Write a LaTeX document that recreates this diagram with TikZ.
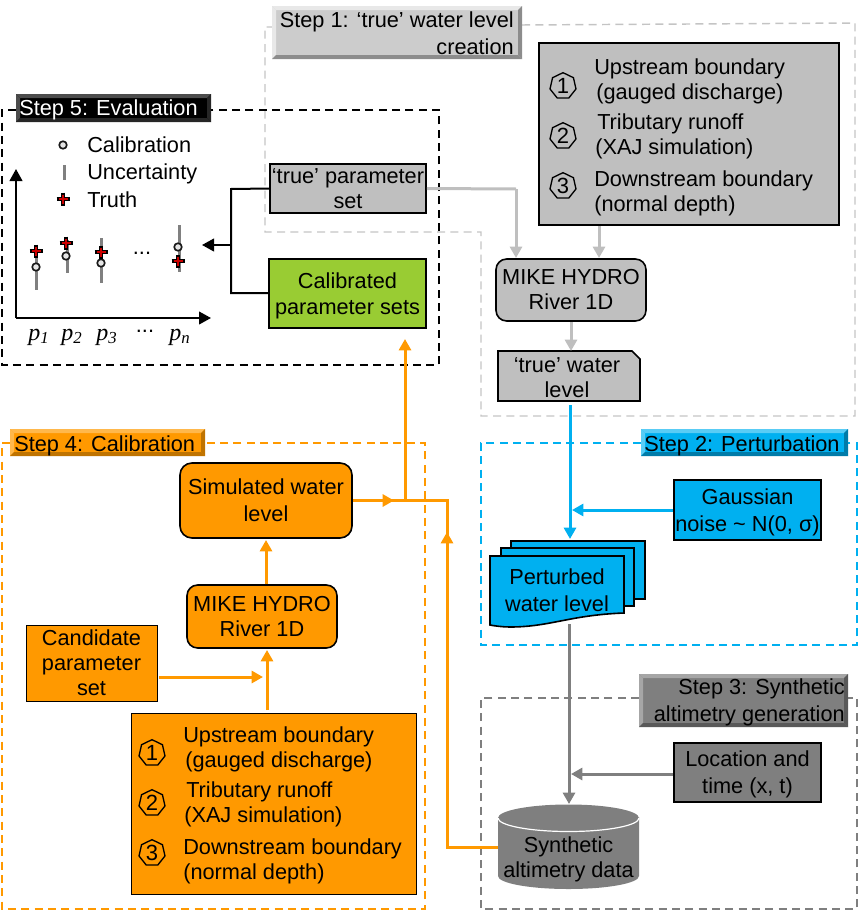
\documentclass[tikz,border=0pt]{standalone}
\usepackage{fontspec}
\setmainfont{Liberation Sans}
\newfontfamily\serifit{Liberation Serif}
\usetikzlibrary{arrows.meta,shapes.geometric,calc}
\definecolor{cgrey}{HTML}{BFBFBF}
\definecolor{cdash}{HTML}{C4C4C4}
\definecolor{cblue}{HTML}{00B0F0}
\definecolor{cdark}{HTML}{7F7F7F}
\definecolor{corange}{HTML}{FF9900}
\definecolor{cgreen}{HTML}{99CC33}
\tikzset{
  txt/.style={font=\fontsize{16.3pt}{18.75pt}\selectfont,align=center,inner sep=0pt,text=black},
  bigls/.style={font=\fontsize{16.3pt}{20.25pt}\selectfont},
  boxed/.style={draw=black,line width=1.2pt,rectangle,inner sep=0pt},
  thinboxed/.style={draw=black,line width=0.75pt,rectangle,inner sep=0pt},
  roundbox/.style={boxed,rounded corners=8pt},
  hexa/.style={regular polygon,regular polygon sides=7,draw=black,line width=1pt,minimum size=20pt,inner sep=0pt,font=\fontsize{16.5pt}{16.5pt}\selectfont,text=black},
  pairtxt/.style={txt,align=left,anchor=west},
  framedash/.style={line width=1.1pt,dash pattern=on 6pt off 4pt},
  greyline/.style={line width=2.25pt,draw=cgrey},
  greyarrow/.style={greyline,-{Triangle[length=8.5pt,width=9pt]}},
  blueline/.style={line width=2.25pt,draw=cblue},
  bluearrow/.style={blueline,-{Triangle[length=8.5pt,width=9pt]}},
  darkline/.style={line width=2.25pt,draw=cdark},
  darkarrow/.style={darkline,-{Triangle[length=8.5pt,width=9pt]}},
  orline/.style={line width=2.25pt,draw=corange},
  orarrow/.style={orline,-{Triangle[length=8.5pt,width=9pt]}},
  blackline/.style={line width=1.5pt,draw=black},
  blackarrow/.style={blackline,-{Triangle[length=9pt,width=9.5pt]}},
  bar/.style={line width=2.25pt,draw=black!50},
  ptxt/.style={txt,font=\fontsize{18pt}{20pt}\selectfont\serifit\itshape},
}
% name, x1,y1,x2,y2, box style, text style, text
\newcommand{\pxbox}[8]{%
  \pgfmathsetmacro{\pxw}{(#4-#2)*0.75}%
  \pgfmathsetmacro{\pxh}{(#5-#3)*0.75}%
  \node[#6,minimum width=\pxw pt,minimum height=\pxh pt] (#1) at ({(#2+#4)/2},{(#3+#5)/2}) {};%
  \node[txt,#7] (#1-t) at (#1.center) {#8};%
}
% bevel: x1,y1,x2,y2, main, top/left, bottom/right
\newcommand{\bevel}[7]{%
  \fill[#5] (#1,#2) rectangle (#3,#4);%
  \fill[#6] (#1,#2) -- (#3,#2) -- ({#3-4},{#2+4}) -- ({#1+4},{#2+4}) -- cycle;%
  \fill[#6] (#1,#2) -- (#1,#4) -- ({#1+4},{#4-4}) -- ({#1+4},{#2+4}) -- cycle;%
  \fill[#7] (#3,#4) -- (#1,#4) -- ({#1+4},{#4-4}) -- ({#3-4},{#4-4}) -- cycle;%
  \fill[#7] (#3,#4) -- (#3,#2) -- ({#3-4},{#2+4}) -- ({#3-4},{#4-4}) -- cycle;%
}
\newcommand{\redplus}[2]{%
  \draw[line width=3.6pt,black] ({#1-6.5},#2) -- ({#1+6.5},#2) ({#1},{#2-6.5}) -- ({#1},{#2+6.5});%
  \draw[line width=1.1pt,red!80!black] ({#1-4.5},#2) -- ({#1+4.5},#2) ({#1},{#2-4.5}) -- ({#1},{#2+4.5});%
}
\newcommand{\calib}[2]{\draw[line width=1.25pt,black!90,fill=black!10] (#1,#2) circle (3.8);}
\begin{document}
\begin{tikzpicture}[x=0.75pt,y=-0.75pt]
\useasboundingbox (0,0) rectangle (864,910);
% frames
\draw[framedash,draw=cdash] (522,25) -- (855,23) -- (855,416) -- (481,416) -- (481,232) -- (265,232) -- (265,27) -- (272,27);
\draw[framedash,draw=black] (16,110) -- (2,110) -- (2,365) -- (439,365) -- (439,110) -- (211,110);
\draw[framedash,draw=cblue] (641,443) -- (481,443) -- (481,645) -- (857,645) -- (857,443) -- (848,443);
\draw[framedash,draw=cdark] (639,698) -- (481,698) -- (481,909) -- (857,909) -- (857,698) -- (848,698);
\draw[framedash,draw=corange] (10,443) -- (2,443) -- (2,909) -- (425,909) -- (425,443) -- (205,443);

% step labels
\bevel{272}{6}{522}{59}{black!20}{black!9}{black!45}
\node[txt,bigls,align=right,anchor=east] (s1) at (514,33.5) {Step 1: ‘true’ water level\\creation};
\bevel{16}{94}{211}{122}{black}{black!70}{black!85}
\node[txt,anchor=west,text=white] (s5) at (19,110) {Step 5: Evaluation};
\bevel{641}{429}{848}{456}{cblue}{cblue!65}{cblue!70!black}
\node[txt,anchor=west] (s2) at (644,445.5) {Step 2: Perturbation};
\bevel{639}{674}{848}{727}{cdark}{black!35}{black!65}
\node[txt,bigls,align=right,anchor=east] (s3) at (845,702) {Step 3: Synthetic\\altimetry generation};
\bevel{10}{429}{205}{456}{corange}{corange!70}{corange!75!black}
\node[txt,anchor=west] (s4) at (14,445.5) {Step 4: Calibration};

% step 1 nodes
\pxbox{inA}{539}{43}{839}{225}{boxed,fill=cgrey}{}{}
\node[hexa] (ha1) at (563,86) {1};
\node[hexa] (ha2) at (563,136) {2};
\node[hexa] (ha3) at (563,186) {3};
\node[pairtxt] (ta1) at (594,81.5) {Upstream boundary\\\hspace*{1.5pt}(gauged discharge)};
\node[pairtxt] (ta2) at (595,136.5) {\hspace*{1.5pt}Tributary runoff\\(XAJ simulation)};
\node[pairtxt] (ta3) at (594,193.5) {Downstream boundary\\(normal depth)};
\pxbox{mikeA}{496}{259}{646}{321}{roundbox,fill=cgrey}{}{MIKE HYDRO\\River 1D}
\draw[line width=1.2pt,fill=cgrey] (498,351) -- (632,351) -- (640,359) -- (640,401) -- (498,401) -- cycle;
\node[txt,minimum width=106.5pt,minimum height=37.5pt] (wl) at (569,378) {\hspace*{-3pt}‘true’ water\\\hspace*{-3pt}level};
\pxbox{trueset}{270}{164}{426}{213}{boxed,fill=cgrey}{}{‘true’ parameter\\set}
\pxbox{calset}{269}{259}{426}{328}{boxed,fill=cgreen}{yshift=-1.5pt,font=\fontsize{16.3pt}{19.5pt}\selectfont}{Calibrated\\parameter sets}

% step 2 nodes
\pxbox{noise}{674}{480}{821}{540}{boxed,fill=cblue}{bigls,yshift=-1.5pt}{Gaussian\\noise \textasciitilde{} N(0, σ)}
\draw[line width=1.2pt,fill=cblue] (511,541) rectangle (645,599);
\draw[line width=1.2pt,fill=cblue] (501,548) rectangle (634,606);
\draw[line width=1.2pt,fill=cblue] (490,556) -- (624,556) -- (624,613) .. controls (570,615) and (550,627) .. (510,627) .. controls (503,627) and (495,626) .. (490,625) -- cycle;
\node[txt,bigls,minimum width=100pt,minimum height=43pt] (pert) at (557,590.5) {Perturbed\\water level};

% step 3 nodes
\pxbox{loc}{674}{743}{821}{802}{boxed,fill=cdark}{bigls,yshift=-1.5pt}{Location and\\time (x, t)}
\fill[cdark] (498,817) -- (498,876) arc[start angle=180,end angle=360,x radius=70.5,y radius=-13] -- (639,817) -- cycle;
\fill[cdark] (568.5,818) ellipse [x radius=70.5,y radius=13.5];
\draw[white,line width=0.9pt] (498,818) arc[start angle=180,end angle=360,x radius=70.5,y radius=-13.5];
\node[txt,minimum width=105pt,minimum height=40pt] (synth) at (568.5,859) {Synthetic\\altimetry data};

% step 4 nodes
\pxbox{sim}{180}{463}{352}{538}{roundbox,fill=corange,rounded corners=9pt}{bigls}{Simulated water\\level}
\pxbox{mikeB}{187}{585}{337}{648}{roundbox,fill=corange}{}{MIKE HYDRO\\River 1D}
\pxbox{cand}{26}{625}{157}{701}{thinboxed,fill=corange}{}{Candidate\\parameter\\set}
\pxbox{inB}{131}{713}{416}{894}{thinboxed,fill=corange}{}{}
\node[hexa] (hb1) at (152,753) {1};
\node[hexa] (hb2) at (152,803) {2};
\node[hexa] (hb3) at (152,853) {3};
\node[pairtxt] (tb1) at (183,749.5) {Upstream boundary\\\hspace*{1.5pt}(gauged discharge)};
\node[pairtxt] (tb2) at (184,804.5) {\hspace*{1.5pt}Tributary runoff\\(XAJ simulation)};
\node[pairtxt] (tb3) at (183,861.5) {Downstream boundary\\(normal depth)};

% free-end coordinates
\coordinate (gA) at (516,189);
\coordinate (gB) at (516,258);
\coordinate (gC) at (599,258);
\coordinate (gD) at (571,322);
\coordinate (gE) at (571,351);
\coordinate (bA) at (570,405);
\coordinate (bB) at (570,539);
\coordinate (bC) at (572,510);
\coordinate (dA) at (569,624);
\coordinate (dB) at (569,804);
\coordinate (dC) at (571,774);
\coordinate (oS) at (498,847);
\coordinate (oJ) at (447,500.5);
\coordinate (oK) at (447,532);
\coordinate (oT) at (394,500.5);
\coordinate (oV) at (405,500.5);
\coordinate (oU) at (405,339);
\coordinate (oA) at (266,540);
\coordinate (oB) at (263,677);
\coordinate (oC) at (267,650);
\coordinate (oD) at (267,710);
\coordinate (oE) at (159,677);
\coordinate (kJ) at (231,189);
\coordinate (kK) at (231,293);
\coordinate (kM) at (231,245);
\coordinate (kT) at (202,245);

% connectors
\draw[greyline] (trueset.east) -- (gA);
\draw[greyarrow] (gA) -- (gB);
\draw[greyarrow] (inA.south -| gC) -- (gC);
\draw[greyarrow] (gD) -- (gE);
\draw[bluearrow] (bA) -- (bB);
\draw[bluearrow] (noise.west |- bC) -- (bC);
\draw[darkarrow] (dA) -- (dB);
\draw[darkarrow] (loc.west |- dC) -- (dC);
\draw[orline] (oS) -- (oS -| oJ) -- (oJ) -- (sim.east);
\draw[orarrow] (oS -| oJ) -- (oK);
\draw[orarrow] (sim.east) -- (oT);
\draw[orarrow] (oV) -- (oU);
\draw[orarrow] (mikeB.north -| oA) -- (oA);
\draw[orarrow] (oE) -- (oB);
\draw[orarrow] (oD) -- (oC);
\draw[blackline] (trueset.west) -- (kJ) -- (kK) -- (calset.west |- kK);
\draw[blackarrow] (kM) -- (kT);

% evaluation plot
\draw[-{Triangle[length=9pt,width=9.5pt]},line width=1.5pt] (16,318) -- (16,169);
\draw[-{Triangle[length=9pt,width=9.5pt]},line width=1.5pt] (16,318) -- (211,318);
\calib{63}{145}
\draw[bar] (64,165) -- (64,180);
\redplus{63}{199}
\node[txt,anchor=west] (lg1) at (87,145) {Calibration};
\node[txt,anchor=west] (lg2) at (87,173.5) {Uncertainty};
\node[txt,anchor=west] (lg3) at (87,199.5) {Truth};
\draw[bar] (36,245) -- (36,290);
\draw[bar] (67,240) -- (67,273);
\draw[bar] (101,238) -- (101,283);
\draw[bar] (179,225) -- (179,272);
\calib{36}{267}\redplus{36}{251}
\calib{66}{256}\redplus{66}{243}
\calib{101}{263}\redplus{101}{252}
\calib{178}{247}\redplus{178}{261}
\node[txt] (d1) at (142,253) {...};
\node[ptxt] (p1) at (39,337) {p\textsubscript{1}};
\node[ptxt] (p2) at (72,337) {p\textsubscript{2}};
\node[ptxt] (p3) at (107,337) {p\textsubscript{3}};
\node[txt] (d2) at (145,331) {...};
\node[ptxt] (pn) at (180,337) {p\textsubscript{n}};
\end{tikzpicture}
\end{document}
